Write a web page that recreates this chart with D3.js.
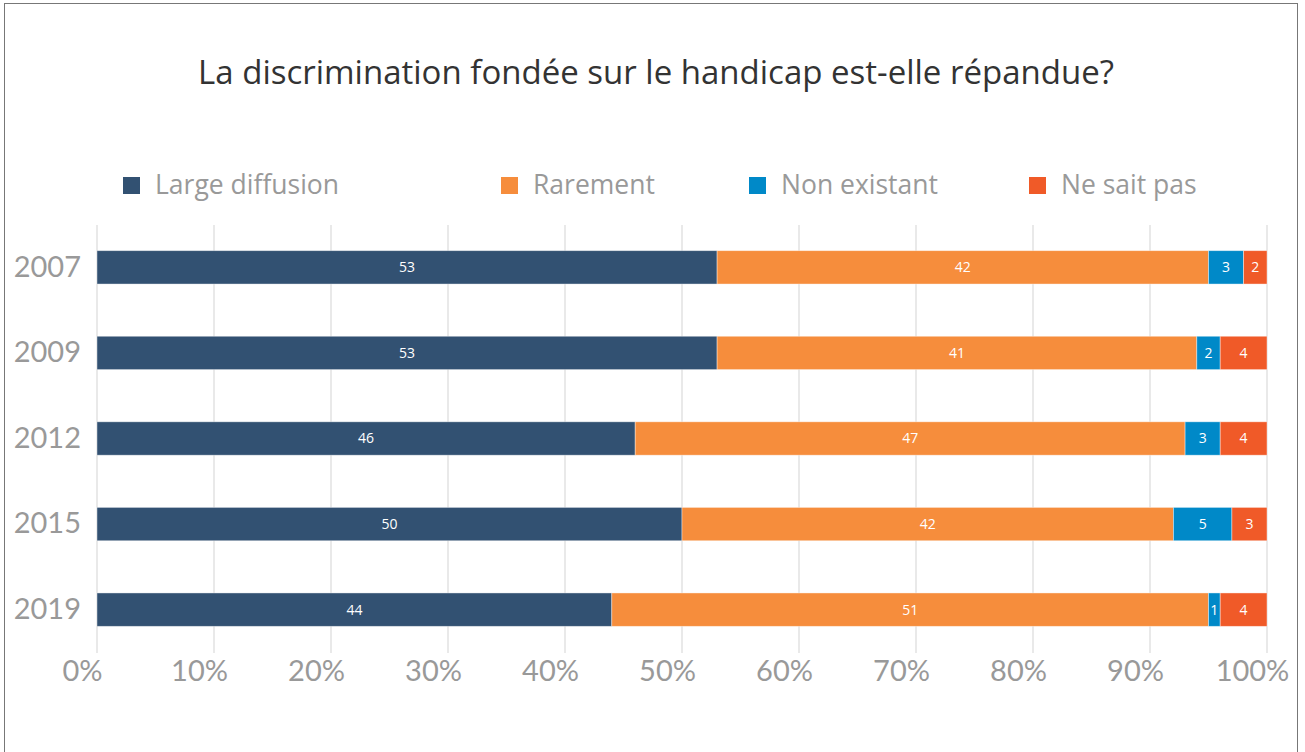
<!DOCTYPE html>
<html>
<head>
<meta charset="utf-8">
<script src="https://cdn.jsdelivr.net/npm/d3@7"></script>
<style>
  body { margin: 0; background: #fff; }
  svg { display: block; }
</style>
</head>
<body>
<svg id="chart"></svg>
<script>
var years = ["2007", "2009", "2012", "2015", "2019"];
var seriesNames = ["Large diffusion", "Rarement", "Non existant", "Ne sait pas"];
var largeDiffusion = [53, 53, 46, 50, 44];
var rarement = [42, 41, 47, 42, 51];
var nonExistant = [3, 2, 3, 5, 1];
var neSaitPas = [2, 4, 4, 3, 4];
var tickValues = [0, 10, 20, 30, 40, 50, 60, 70, 80, 90, 100];
var colors = ["#325172", "#f68d3c", "#0089c8", "#f05a28"];

var W = 1305, H = 752;
var svg = d3.select("#chart").attr("width", W).attr("height", H);

// frame
svg.append("rect")
    .attr("x", 4.5).attr("y", 3.5)
    .attr("width", 1293).attr("height", 760)
    .attr("fill", "none")
    .attr("stroke", "#777")
    .attr("stroke-width", 1);

var data = years.map(function (y, i) {
    return { year: y, "Large diffusion": largeDiffusion[i], "Rarement": rarement[i],
             "Non existant": nonExistant[i], "Ne sait pas": neSaitPas[i] };
});

var x = d3.scaleLinear().domain([0, 100]).range([97, 1267]);
var y = d3.scaleBand().domain(years).range([225, 652]).paddingInner(0.61).paddingOuter(0.3);

// title
svg.append("text")
    .attr("x", 656).attr("y", 84)
    .attr("text-anchor", "middle")
    .attr("font-family", "Open Sans, sans-serif")
    .attr("font-size", 33)
    .attr("fill", "#333")
    .text("La discrimination fondée sur le handicap est-elle répandue?");

// legend
var legendX = [123, 501, 749, 1029];
var legend = svg.append("g").selectAll("g")
    .data(seriesNames).enter().append("g")
    .attr("transform", function (d, i) { return "translate(" + legendX[i] + ",177)"; });
legend.append("rect")
    .attr("width", 17).attr("height", 17)
    .attr("fill", function (d, i) { return colors[i]; });
legend.append("text")
    .attr("x", 32).attr("y", 17)
    .attr("font-family", "Open Sans, sans-serif")
    .attr("font-size", 26.5)
    .attr("fill", "#999")
    .text(function (d) { return d; });

// grid
svg.append("g").selectAll("line")
    .data(tickValues).enter().append("line")
    .attr("x1", function (d) { return x(d); })
    .attr("x2", function (d) { return x(d); })
    .attr("y1", 225).attr("y2", 653)
    .attr("stroke", "#e2e2e2")
    .attr("stroke-width", 1.5);

// x axis labels (sit slightly left of their grid lines, as in the source)
var xAxis = d3.axisBottom(x).tickValues(tickValues)
    .tickFormat(function (d) { return d + "%"; }).tickSize(0).tickPadding(0);
var gx = svg.append("g").attr("transform", "translate(-15,654)").call(xAxis);
gx.select(".domain").remove();
gx.selectAll("text")
    .attr("dy", "0.71em")
    .attr("y", 6)
    .attr("font-family", "Lato, sans-serif")
    .attr("font-size", 29)
    .attr("fill", "#999");

// y axis labels
var yAxis = d3.axisLeft(y).tickSize(0).tickPadding(0);
var gy = svg.append("g").attr("transform", "translate(81,0)").call(yAxis);
gy.select(".domain").remove();
gy.selectAll("text")
    .attr("font-family", "Lato, sans-serif")
    .attr("font-size", 29)
    .attr("fill", "#999");

// bars
var stack = d3.stack().keys(seriesNames);
var layers = stack(data);

var layer = svg.append("g").selectAll("g")
    .data(layers).enter().append("g")
    .attr("fill", function (d, i) { return colors[i]; });

layer.selectAll("rect")
    .data(function (d) { return d; }).enter().append("rect")
    .attr("x", function (d) { return x(d[0]); })
    .attr("y", function (d) { return y(d.data.year); })
    .attr("width", function (d) { return x(d[1]) - x(d[0]); })
    .attr("height", y.bandwidth())
    .attr("stroke", "#fff")
    .attr("stroke-opacity", 0.5)
    .attr("stroke-width", 0.8);

layer.selectAll("text")
    .data(function (d) { return d; }).enter().append("text")
    .attr("x", function (d) { return (x(d[0]) + x(d[1])) / 2; })
    .attr("y", function (d) { return y(d.data.year) + y.bandwidth() / 2; })
    .attr("dy", "0.35em")
    .attr("text-anchor", "middle")
    .attr("font-family", "Open Sans, sans-serif")
    .attr("font-size", 14)
    .attr("fill", "#fff")
    .text(function (d) { return d[1] - d[0]; });
</script>
</body>
</html>
